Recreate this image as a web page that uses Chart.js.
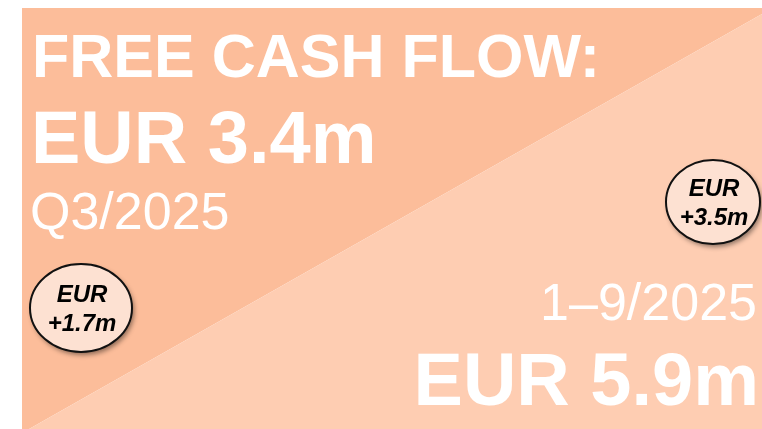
<!DOCTYPE html>
<html>
<head>
<meta charset="utf-8">
<script src="https://cdn.jsdelivr.net/npm/chart.js@4.4.1/dist/chart.umd.min.js"></script>
<style>
  html, body { margin: 0; padding: 0; background: #fff; }
  canvas { display: block; }
</style>
</head>
<body>
<canvas id="canvas" width="762" height="429"></canvas>
<script>
/* data */
const title = 'FREE CASH FLOW:';
const periods = ['Q3/2025', '1–9/2025'];
const cashFlow = [3.4, 5.9];   // EUR m
const change = [1.7, 3.5];     // EUR m vs. previous year

/* layout, in a 762 x 429 grid */
const panel = { left: 22, top: 8, right: 762, bottom: 429 };
const diag = [{ x: 22, y: 433 }, { x: 762, y: 14 }];
const bubbles = [
  { x: 81, y: 308, rx: 51, ry: 44 },
  { x: 713, y: 202, rx: 47, ry: 42 }
];

const darkColor = '#fcbd9a';
const lightColor = '#fecdb2';
const bubbleColor = '#fde1d2';
const font = '"Liberation Sans", Arial, sans-serif';

const fmt = v => v.toFixed(1);

/* texts + ellipses */
const infoPlugin = {
  id: 'info',
  afterDatasetsDraw(chart) {
    const ctx = chart.ctx;
    const px = v => chart.scales.x.getPixelForValue(v);
    const py = v => chart.scales.y.getPixelForValue(v);

    ctx.save();
    ctx.fillStyle = '#fff';
    ctx.textBaseline = 'alphabetic';

    // left block: Q3
    ctx.textAlign = 'left';
    ctx.font = 'bold 61px ' + font;
    ctx.fillText(title, px(32), py(77));
    ctx.font = 'bold 74px ' + font;
    ctx.fillText('EUR ' + fmt(cashFlow[0]) + 'm', px(31), py(163));
    ctx.font = '52px ' + font;
    ctx.fillText(periods[0], px(30), py(229));

    // right block: 1-9
    ctx.textAlign = 'right';
    ctx.font = '52px ' + font;
    ctx.fillText(periods[1], px(757), py(320));
    ctx.font = 'bold 74px ' + font;
    ctx.fillText('EUR ' + fmt(cashFlow[1]) + 'm', px(759), py(405));

    // ellipses with change
    bubbles.forEach((b, i) => {
      ctx.save();
      ctx.beginPath();
      ctx.ellipse(px(b.x), py(b.y), b.rx, b.ry, 0, 0, Math.PI * 2);
      ctx.shadowColor = 'rgba(0,0,0,0.45)';
      ctx.shadowBlur = 5;
      ctx.shadowOffsetX = 2;
      ctx.shadowOffsetY = 3;
      ctx.fillStyle = bubbleColor;
      ctx.fill();
      ctx.shadowColor = 'transparent';
      ctx.lineWidth = 2;
      ctx.strokeStyle = '#111';
      ctx.stroke();
      ctx.restore();

      ctx.fillStyle = '#000';
      ctx.textAlign = 'center';
      ctx.font = 'italic bold 24px ' + font;
      ctx.fillText('EUR', px(b.x + 1), py(b.y - 6));
      ctx.fillText('+' + fmt(change[i]) + 'm', px(b.x + 1), py(b.y + 23));
    });
    ctx.restore();
  }
};

const ctx = document.getElementById('canvas');
new Chart(ctx, {
  type: 'scatter',
  data: {
    datasets: [
      {
        label: 'light',
        data: [diag[0], diag[1], { x: panel.right, y: panel.bottom }, { x: panel.left, y: panel.bottom }],
        showLine: true,
        fill: 'shape',
        backgroundColor: lightColor,
        borderWidth: 0,
        pointRadius: 0
      },
      {
        label: 'dark',
        data: [{ x: panel.left, y: panel.top }, { x: panel.right, y: panel.top }, diag[1], diag[0]],
        showLine: true,
        fill: 'shape',
        backgroundColor: darkColor,
        borderWidth: 0,
        pointRadius: 0
      }
    ]
  },
  options: {
    responsive: false,
    animation: false,
    layout: { padding: 0 },
    plugins: { legend: { display: false }, tooltip: { enabled: false } },
    scales: {
      x: { type: 'linear', min: 0, max: 762, display: false },
      y: { type: 'linear', min: 0, max: 429, reverse: true, display: false }
    }
  },
  plugins: [infoPlugin]
});
</script>
</body>
</html>
